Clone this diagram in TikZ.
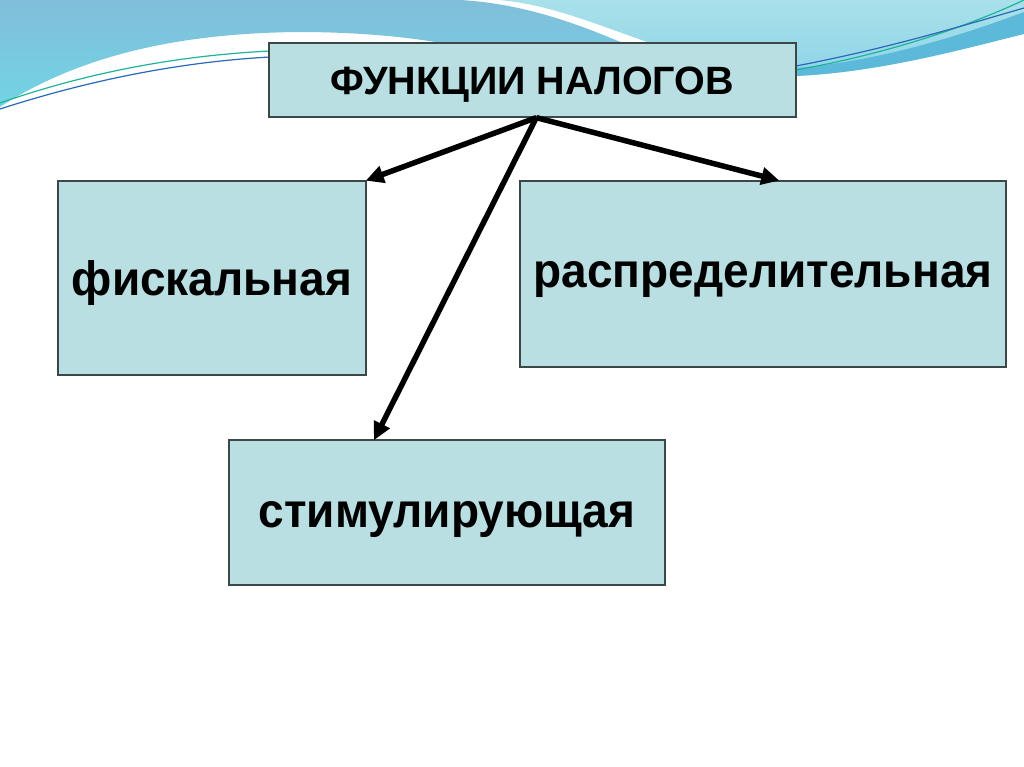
\documentclass[tikz,border=0pt]{standalone}
\usepackage{fontspec}
\setmainfont{Liberation Sans}
\usetikzlibrary{arrows.meta,calc}
\definecolor{boxfill}{HTML}{B9DFE3}
\definecolor{boxline}{HTML}{3C4848}
\definecolor{waveA}{HTML}{80BEDA}
\definecolor{waveAlow}{HTML}{72D4E4}
\definecolor{waveB}{HTML}{A9E1EA}
\definecolor{waveBlow}{HTML}{8ED4E8}
\definecolor{waveband}{HTML}{5DB9DA}
\definecolor{lineblue}{HTML}{2A68B8}
\definecolor{lineteal}{HTML}{1FB39A}
\newcommand{\tallbig}[1]{\scalebox{1}[1.05]{\bfseries\fontsize{46}{52}\selectfont #1}}
\newcommand{\dropby}[2]{\raisebox{-#1}[\height][\depth]{#2}}
\tikzset{
  fbox/.style={draw=boxline, line width=1.3pt, fill=boxfill, rectangle, inner sep=0pt, font=\bfseries},
  arr/.style={line width=5.5pt, -{Triangle[length=18pt,width=17pt]}, shorten >=-1pt},
}
\begin{document}
\begin{tikzpicture}[x=1pt,y=-1pt]
\useasboundingbox (0,0) rectangle (1024,767);
\fill[white] (0,0) rectangle (1024,767);
% left wave region
\shade[top color=waveA, bottom color=waveAlow]
  (0,0) -- (460,0) .. controls (530,4) and (590,28) .. (650,55) -- (650,90) -- (450,90)
  -- (450,45) .. controls (420,38) and (360,32) .. (300,32)
  .. controls (180,33) and (80,55) .. (0,107) -- cycle;
% right wave region
\shade[top color=waveB, bottom color=waveBlow]
  (500,0) -- (1024,0) -- (1024,30) .. controls (960,50) and (880,72) .. (796,76)
  -- (700,76) -- (700,60) .. controls (670,50) and (655,46) .. (650,43)
  .. controls (590,22) and (550,5) .. (500,0) -- cycle;
% band on lower edge of right region
\fill[waveband] (1024,12) .. controls (950,40) and (870,62) .. (796,68)
  -- (796,76) .. controls (880,72) and (960,50) .. (1024,34) -- cycle;
% thin lines
\draw[lineteal, line width=1.2pt] (0,103) .. controls (80,75) and (170,56) .. (270,51);
\draw[lineblue, line width=1.2pt] (0,109) .. controls (90,80) and (180,62) .. (270,57);
\draw[lineteal, line width=1.2pt] (796,70) .. controls (880,55) and (960,30) .. (1024,0);
\draw[lineblue, line width=1.2pt] (796,66) .. controls (890,48) and (965,25) .. (1024,8);
% boxes
\node[fbox, minimum width=527pt, minimum height=74pt, font=\bfseries\fontsize{39.5}{44}\selectfont] (top) at (532.5,80) {\dropby{5pt}{ФУНКЦИИ НАЛОГОВ}};
\node[fbox, minimum width=308pt, minimum height=194pt] (fisc) at (212,278) {\dropby{5pt}{\tallbig{фискальная}}};
\node[fbox, minimum width=486pt, minimum height=186pt] (dist) at (763,274) {\dropby{5pt}{\tallbig{распределительная}}};
\node[fbox, minimum width=436pt, minimum height=145pt] (stim) at (447,512.5) {\dropby{7pt}{\tallbig{стимулирующая}}};
% arrows
\coordinate (src) at ($(top.south west)+(268,0)$);
\draw[arr] (src) -- (fisc.north east);
\draw[arr] (src) -- ($(dist.north west)+(259,0)$);
\draw[arr] (src) -- ($(stim.north west)+(146,0)$);
\end{tikzpicture}
\end{document}
